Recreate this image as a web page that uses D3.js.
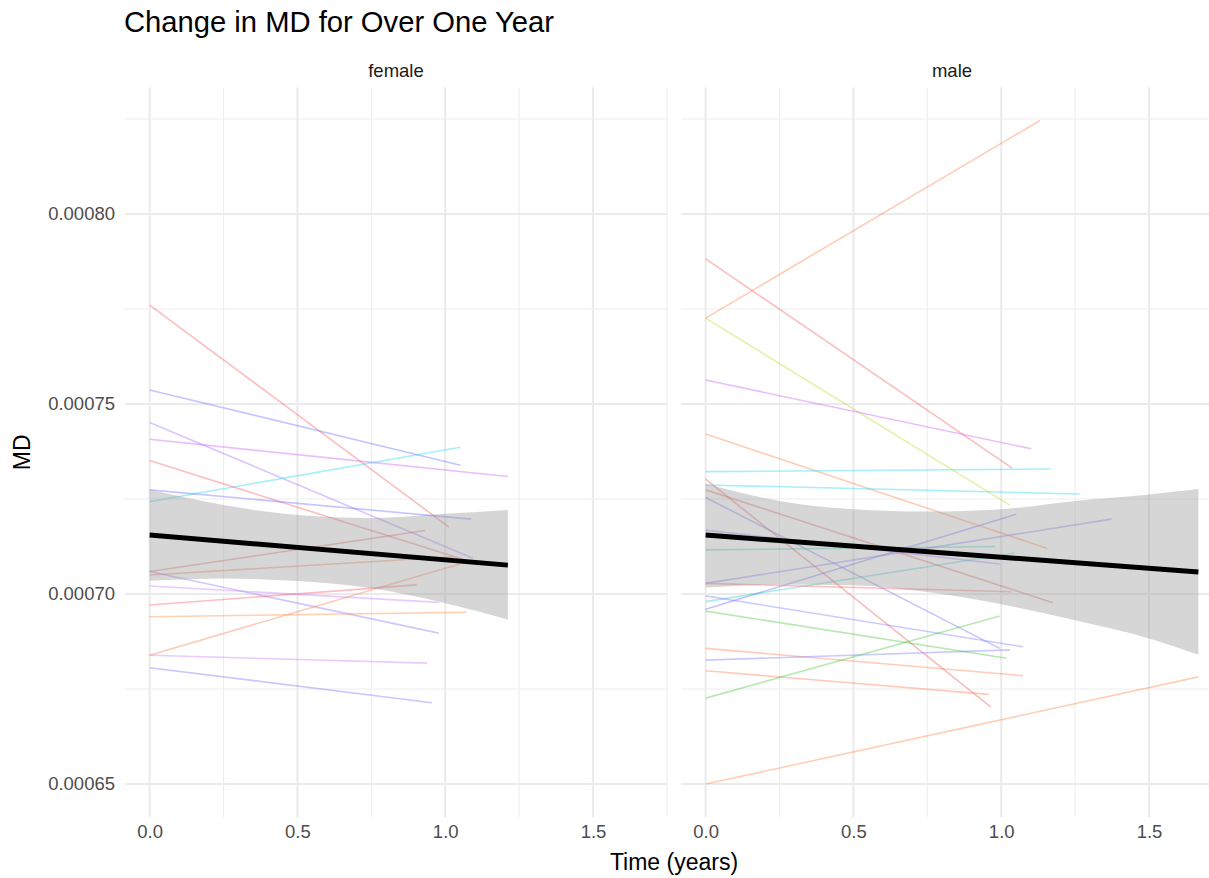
<!DOCTYPE html>
<html>
<head>
<meta charset="utf-8">
<script src="https://cdn.jsdelivr.net/npm/d3@7"></script>
<style>
  html, body { margin: 0; padding: 0; background: #ffffff; }
  svg { display: block; font-family: "Liberation Sans", Arial, Helvetica, sans-serif; }
</style>
</head>
<body>
<svg id="chart" width="1209" height="878"></svg>
<script>
// ---- data -------------------------------------------------------------
const panels = ["female", "male"];

// each subject: MD at baseline (time 0), follow-up time (years), MD at follow-up
const femaleStart   = [0.0007760, 0.0007537, 0.0007451, 0.0007407, 0.0007243, 0.0007351, 0.0007274, 0.0007059,
                       0.0007050, 0.0007059, 0.0007021, 0.0006971, 0.0006940, 0.0006839, 0.0006839, 0.0006806];
const femaleEndTime = [1.013, 1.052, 1.094, 1.212, 1.051, 1.072, 1.088, 0.931,
                       1.026, 0.978, 0.978, 0.903, 1.072, 1.049, 0.939, 0.955];
const femaleEnd     = [0.0007176, 0.0007339, 0.0007094, 0.0007309, 0.0007386, 0.0007088, 0.0007197, 0.0007167,
                       0.0007098, 0.0006897, 0.0006978, 0.0007024, 0.0006952, 0.0007079, 0.0006818, 0.0006714];

const maleStart   = [0.0007726, 0.0007882, 0.0007726, 0.0007563, 0.0007421, 0.0007322, 0.0007287, 0.0007302,
                     0.0007274, 0.0007254, 0.0007168, 0.0007116, 0.0007028, 0.0006960, 0.0006980, 0.0007028,
                     0.0006995, 0.0006955, 0.0006857, 0.0006826, 0.0006798, 0.0006726, 0.0006500];
const maleEndTime = [1.131, 1.037, 1.029, 1.102, 1.156, 1.167, 1.265, 0.964,
                     1.175, 0.995, 0.995, 0.980, 1.373, 1.051, 1.046, 1.034,
                     1.074, 1.018, 1.074, 1.030, 0.958, 0.995, 1.667];
const maleEnd     = [0.0008246, 0.0007331, 0.0007234, 0.0007382, 0.0007120, 0.0007329, 0.0007263, 0.0006703,
                     0.0006977, 0.0006857, 0.0007079, 0.0007125, 0.0007197, 0.0007210, 0.0007108, 0.0007006,
                     0.0006861, 0.0006831, 0.0006785, 0.0006853, 0.0006736, 0.0006942, 0.0006782];

// linear trend with its confidence band, per panel
const femaleFitTime   = [0, 1.212];
const femaleFit       = [0.0007155, 0.0007076];
const femaleBandTime  = [0, 0.25, 0.5, 0.75, 1.0, 1.212];
const femaleBandUpper = [0.0007274, 0.0007234, 0.0007208, 0.0007200, 0.0007211, 0.0007221];
const femaleBandLower = [0.0007035, 0.0007041, 0.0007034, 0.0007015, 0.0006976, 0.0006933];

const maleFitTime   = [0, 1.667];
const maleFit       = [0.0007155, 0.0007058];
const maleBandTime  = [0, 0.25, 0.5, 0.75, 1.0, 1.25, 1.5, 1.667];
const maleBandUpper = [0.0007290, 0.0007245, 0.0007223, 0.0007217, 0.0007223, 0.0007245, 0.0007262, 0.0007276];
const maleBandLower = [0.0007017, 0.0007025, 0.0007023, 0.0007005, 0.0006973, 0.0006931, 0.0006883, 0.0006840];

// axis breaks and labels
const xTickValues = [0, 0.5, 1.0, 1.5];
const xTickLabels = ["0.0", "0.5", "1.0", "1.5"];
const xMinorBreaks = [0.25, 0.75, 1.25, 1.75];
const yTickValues = [0.00065, 0.00070, 0.00075, 0.00080];
const yTickLabels = ["0.00065", "0.00070", "0.00075", "0.00080"];
const yMinorBreaks = [0.000675, 0.000725, 0.000775, 0.000825];

// subject line colours
const femaleColors = ["#F25F5C", "#6E6EFF", "#A070FF", "#D05BF5", "#22D8F0", "#F25F5C", "#6E6EFF", "#E2605A",
                      "#F07A45", "#8E70FF", "#C77CFF", "#FF5C70", "#FF8A40", "#FF7A45", "#C77CFF", "#7C72FF"];
const maleColors   = ["#FF7F45", "#F25F5C", "#C4D62B", "#D05BF5", "#FF7F45", "#22D8F0", "#22D8F0", "#F05858",
                      "#E2605A", "#6E6EFF", "#A070FF", "#2CC8A8", "#7C72FF", "#6A6AFF", "#2CD0C8", "#FF6464",
                      "#7A7AFF", "#4CC83C", "#FF7F45", "#7A7AFF", "#FF7A50", "#4CC83C", "#FF8845"];

// ---- layout -----------------------------------------------------------
const svg = d3.select("#chart");
const panelTop = 87.3, panelBottom = 817.2;
const panelX = { female: [125, 667], male: [681, 1223] };

const allTimes = [0, ...femaleEndTime, ...maleEndTime];
const allMD = [...femaleStart, ...femaleEnd, ...maleStart, ...maleEnd];
const tExt = d3.extent(allTimes), vExt = d3.extent(allMD);
const tPad = (tExt[1] - tExt[0]) * 0.05, vPad = (vExt[1] - vExt[0]) * 0.05;

const y = d3.scaleLinear().domain([vExt[0] - vPad, vExt[1] + vPad]).range([panelBottom, panelTop]);
const xFor = p => d3.scaleLinear().domain([tExt[0] - tPad, tExt[1] + tPad]).range(panelX[p]);

const panelData = {
  female: { start: femaleStart, endTime: femaleEndTime, end: femaleEnd, colors: femaleColors,
            fitT: femaleFitTime, fit: femaleFit, bandT: femaleBandTime, up: femaleBandUpper, lo: femaleBandLower },
  male:   { start: maleStart, endTime: maleEndTime, end: maleEnd, colors: maleColors,
            fitT: maleFitTime, fit: maleFit, bandT: maleBandTime, up: maleBandUpper, lo: maleBandLower }
};

svg.append("rect").attr("width", 1209).attr("height", 878).attr("fill", "#ffffff");

panels.forEach(p => {
  const x = xFor(p);
  const d = panelData[p];
  const g = svg.append("g").attr("class", "panel-" + p);
  const [x0, x1] = panelX[p];

  // grid
  g.selectAll("line.ymin").data(yMinorBreaks).join("line")
    .attr("x1", x0).attr("x2", x1).attr("y1", v => y(v)).attr("y2", v => y(v))
    .attr("stroke", "#eeeeee").attr("stroke-width", 1.1);
  g.selectAll("line.xmin").data(xMinorBreaks).join("line")
    .attr("y1", panelTop).attr("y2", panelBottom).attr("x1", t => x(t)).attr("x2", t => x(t))
    .attr("stroke", "#eeeeee").attr("stroke-width", 1.1);
  g.selectAll("line.ymaj").data(yTickValues).join("line")
    .attr("x1", x0).attr("x2", x1).attr("y1", v => y(v)).attr("y2", v => y(v))
    .attr("stroke", "#ebebeb").attr("stroke-width", 2.1);
  g.selectAll("line.xmaj").data(xTickValues).join("line")
    .attr("y1", panelTop).attr("y2", panelBottom).attr("x1", t => x(t)).attr("x2", t => x(t))
    .attr("stroke", "#ebebeb").attr("stroke-width", 2.1);

  // one segment per subject
  const subjects = d.start.map((s, i) => ({ s, t: d.endTime[i], e: d.end[i], c: d.colors[i] }));
  g.selectAll("line.subject").data(subjects).join("line")
    .attr("class", "subject")
    .attr("x1", x(0)).attr("y1", r => y(r.s))
    .attr("x2", r => x(r.t)).attr("y2", r => y(r.e))
    .attr("stroke", r => r.c).attr("stroke-opacity", 0.4).attr("stroke-width", 1.6);

  // confidence band
  const band = d.bandT.map((t, i) => ({ t, up: d.up[i], lo: d.lo[i] }));
  g.append("path").datum(band)
    .attr("d", d3.area().curve(d3.curveMonotoneX).x(r => x(r.t)).y0(r => y(r.lo)).y1(r => y(r.up)))
    .attr("fill", "#999999").attr("fill-opacity", 0.4);

  // fitted line
  const fit = d.fitT.map((t, i) => ({ t, v: d.fit[i] }));
  g.append("path").datum(fit)
    .attr("d", d3.line().x(r => x(r.t)).y(r => y(r.v)))
    .attr("fill", "none").attr("stroke", "#000000").attr("stroke-width", 5);

  // strip label
  svg.append("text").attr("x", (x0 + x1) / 2).attr("y", 77)
    .attr("text-anchor", "middle").attr("font-size", 18.5).attr("fill", "#1a1a1a").text(p);

  // x axis labels
  const ax = svg.append("g").attr("transform", `translate(0,${panelBottom})`)
    .call(d3.axisBottom(x).tickValues(xTickValues).tickFormat((v, i) => xTickLabels[i]).tickSize(0).tickPadding(8));
  ax.select(".domain").remove();
  ax.selectAll("text").attr("font-size", 18.5).attr("fill", "#4d4d4d").attr("font-family", "Liberation Sans, Arial, sans-serif");
});

// y axis labels
const ay = svg.append("g").attr("transform", `translate(${panelX.female[0]},0)`)
  .call(d3.axisLeft(y).tickValues(yTickValues).tickFormat((v, i) => yTickLabels[i]).tickSize(0).tickPadding(10));
ay.select(".domain").remove();
ay.selectAll("text").attr("font-size", 18.5).attr("fill", "#4d4d4d").attr("font-family", "Liberation Sans, Arial, sans-serif");

// titles
svg.append("text").attr("x", 124).attr("y", 32).attr("font-size", 29.2).attr("fill", "#000")
  .text("Change in MD for Over One Year");
svg.append("text").attr("x", (panelX.female[0] + panelX.male[1]) / 2).attr("y", 870)
  .attr("text-anchor", "middle").attr("font-size", 23).attr("fill", "#000").text("Time (years)");
svg.append("text").attr("transform", `translate(30,${(panelTop + panelBottom) / 2}) rotate(-90)`)
  .attr("text-anchor", "middle").attr("font-size", 23).attr("fill", "#000").text("MD");
</script>
</body>
</html>
